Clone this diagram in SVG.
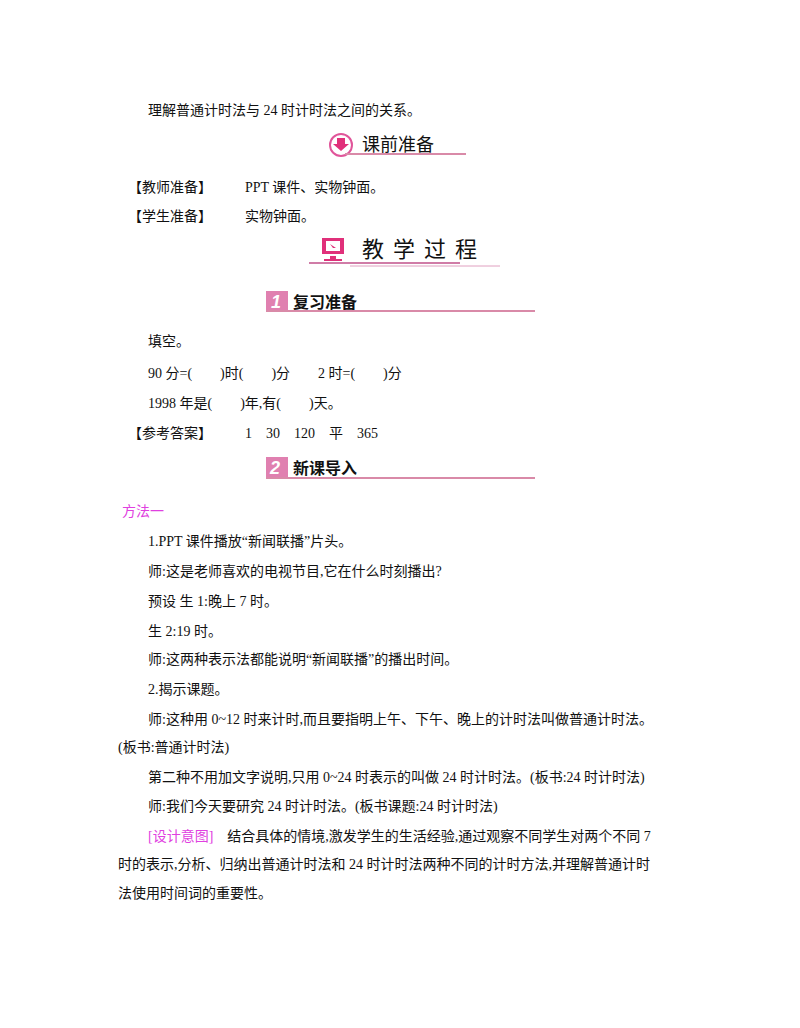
<svg xmlns="http://www.w3.org/2000/svg" width="800" height="1028" viewBox="0 0 800 1028">
<style>
text{font-family:"Liberation Serif","Noto Sans CJK SC",serif;font-size:14px;fill:#111}
.h{font-family:"Noto Sans CJK SC",sans-serif;font-weight:bold;font-size:16px}
.m{fill:#e040e0}
.ln{stroke:#d98aa8;stroke-width:2}
</style>
<rect width="800" height="1028" fill="#fff"/>
<text x="148" y="115">理解普通计时法与 24 时计时法之间的关系。</text>
<g id="h1">
<circle cx="341" cy="145" r="11" fill="#fff" stroke="#e0559a" stroke-width="2"/>
<path d="M337 138h8v6h4l-8 7-8-7h4z" fill="#e0307a"/>
<text x="362" y="151" class="h" style="font-size:18px;font-weight:normal">课前准备</text>
<line x1="345" y1="154" x2="466" y2="154" class="ln"/>
</g>
<text x="128" y="192">【教师准备】</text><text x="245" y="192">PPT 课件、实物钟面。</text>
<text x="128" y="221">【学生准备】</text><text x="245" y="221">实物钟面。</text>
<g id="h2">
<rect x="322" y="238" width="22" height="16" fill="#e0307a"/>
<rect x="326" y="241" width="14" height="10" fill="#fff"/>
<path d="M330 244l6 4-3 0z" fill="#e0307a"/>
<rect x="330" y="256" width="6" height="3" fill="#e0307a"/>
<rect x="324" y="259" width="18" height="2" fill="#e0307a"/>
<text x="362" y="257" style="font-size:22px;letter-spacing:9px">教学过程</text>
<line x1="309" y1="263" x2="460" y2="263" stroke="#c0508a" stroke-width="1.5"/>
<line x1="350" y1="266" x2="500" y2="266" stroke="#e0a0c0" stroke-width="1"/>
</g>
<g id="h3">
<rect x="266" y="291" width="22" height="20" fill="#e080b0"/>
<text x="271" y="308" style="font-family:'Liberation Sans',sans-serif;font-size:18px;font-weight:bold;font-style:italic;fill:#fff">1</text>
<text x="293" y="308" class="h">复习准备</text>
<line x1="266" y1="311" x2="535" y2="311" class="ln"/>
</g>
<text x="148" y="346">填空。</text>
<text x="148" y="378">90 分=(　　)时(　　)分　　2 时=(　　)分</text>
<text x="148" y="408">1998 年是(　　)年,有(　　)天。</text>
<text x="128" y="438">【参考答案】</text><text x="245" y="438">1　30　120　平　365</text>
<g id="h4">
<rect x="266" y="457" width="22" height="20" fill="#e080b0"/>
<text x="270" y="474" style="font-family:'Liberation Sans',sans-serif;font-size:18px;font-weight:bold;font-style:italic;fill:#fff">2</text>
<text x="293" y="474" class="h">新课导入</text>
<line x1="266" y1="478" x2="535" y2="478" class="ln"/>
</g>
<text x="122" y="516" class="m">方法一</text>
<text x="148" y="546">1.PPT 课件播放“新闻联播”片头。</text>
<text x="148" y="576">师:这是老师喜欢的电视节目,它在什么时刻播出?</text>
<text x="148" y="606">预设 生 1:晚上 7 时。</text>
<text x="148" y="636">生 2:19 时。</text>
<text x="148" y="664">师:这两种表示法都能说明“新闻联播”的播出时间。</text>
<text x="148" y="694">2.揭示课题。</text>
<text x="148" y="724">师:这种用 0~12 时来计时,而且要指明上午、下午、晚上的计时法叫做普通计时法。</text>
<text x="118" y="752">(板书:普通计时法)</text>
<text x="148" y="782">第二种不用加文字说明,只用 0~24 时表示的叫做 24 时计时法。(板书:24 时计时法)</text>
<text x="148" y="811">师:我们今天要研究 24 时计时法。(板书课题:24 时计时法)</text>
<text x="148" y="841"><tspan class="m">[设计意图]</tspan>　结合具体的情境,激发学生的生活经验,通过观察不同学生对两个不同 7</text>
<text x="118" y="869">时的表示,分析、归纳出普通计时法和 24 时计时法两种不同的计时方法,并理解普通计时</text>
<text x="118" y="898">法使用时间词的重要性。</text>
</svg>
